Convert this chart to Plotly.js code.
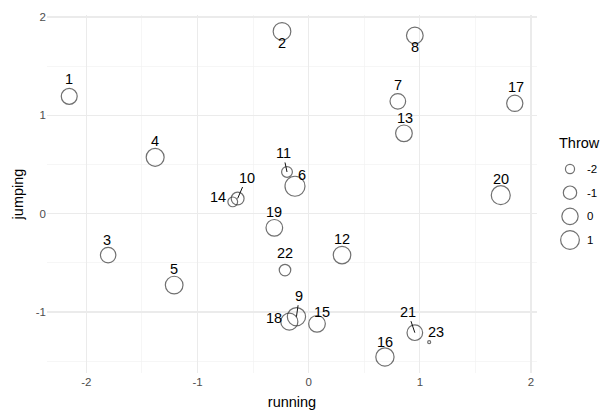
<!DOCTYPE html>
<html>
<head>
<meta charset="utf-8">
<script src="https://cdn.plot.ly/plotly-3.0.1.min.js"></script>
<style>html,body{margin:0;padding:0;background:#fff;}#chart{width:605px;height:410px;}</style>
</head>
<body>
<div id="chart"></div>
<script>
// ---- data ----
const ids = ["1","2","3","4","5","6","7","8","9","10","11","12","13","14","15","16","17","18","19","20","21","22","23"];
const running = [-2.154, -0.240, -1.804, -1.381, -1.210, -0.123, 0.802, 0.955, -0.110, -0.639, -0.195, 0.300, 0.857, -0.683, 0.075, 0.686, 1.854, -0.174, -0.309, 1.728, 0.955, -0.213, 1.084];
const jumping = [1.193, 1.853, -0.421, 0.573, -0.726, 0.279, 1.142, 1.812, -1.048, 0.154, 0.424, -0.421, 0.817, 0.120, -1.120, -1.457, 1.122, -1.098, -0.144, 0.188, -1.210, -0.574, -1.307];
const throwVals = [-0.14, 0.54, -0.30, 0.67, 0.54, 1.60, -0.26, 0.13, 0.80, -1.15, -1.67, 0.50, 0.13, -1.89, 0.13, 0.80, -0.03, 0.30, 0.13, 1.12, -0.26, -1.50, -2.54];
const legendBreaks = [-2, -1, 0, 1];

// ---- label placement (pixel offsets of label from point; seg = leader line) ----
const labelOffsets = [
  [0,-17,0],[0,12,0],[-1,-15,0],[0,-16,0],[0,-16,0],[7,-11,0],[0,-16,0],[0,12,0],
  [3,-21,1],[9,-21,1],[-4,-19,1],[0,-16,0],[1,-15,0],[-15,-5,0],[5,-12,0],[0,-15,0],
  [1,-16,0],[-15,-4,0],[0,-16,0],[0,-16,0],[-7,-21,1],[0,-17,0],[7,-10,0]
];

const tMin = Math.min(...throwVals), tMax = Math.max(...throwVals);
function sizeOf(v){ const f = Math.max(0,(v - tMin)/(tMax - tMin)); return 3 + 17*Math.sqrt(f); }

const FONT = "Liberation Sans, Arial, Helvetica, sans-serif";
const ptColor = "#333333";

const main = {
  type: "scatter", mode: "markers",
  x: running, y: jumping, xaxis: "x", yaxis: "y",
  marker: { symbol: "circle-open", size: throwVals.map(sizeOf), color: ptColor, line: {width: 1.2, color: ptColor} },
  hoverinfo: "skip", showlegend: false, cliponaxis: false
};
const leg = {
  type: "scatter", mode: "markers",
  x: legendBreaks.map(() => 0.5), y: legendBreaks, xaxis: "x2", yaxis: "y2",
  marker: { symbol: "circle-open", size: legendBreaks.map(sizeOf), color: ptColor, line: {width: 1.2, color: ptColor} },
  hoverinfo: "skip", showlegend: false, cliponaxis: false
};

const annotations = [];
ids.forEach((id, i) => {
  const o = labelOffsets[i];
  if (o[2]) {
    annotations.push({ x: running[i], y: jumping[i], xref: "x", yref: "y", text: id,
      showarrow: true, arrowhead: 0, arrowwidth: 1, arrowcolor: "#111", ax: o[0], ay: o[1], standoff: 0,
      font: {family: FONT, size: 14.5, color: "#000"} });
  } else {
    annotations.push({ x: running[i], y: jumping[i], xref: "x", yref: "y", text: id,
      showarrow: false, xshift: o[0], yshift: -o[1],
      font: {family: FONT, size: 14.5, color: "#000"} });
  }
});
legendBreaks.forEach(b => {
  annotations.push({ x: 1.25, y: b, xref: "x2", yref: "y2", text: String(b), showarrow: false,
    xanchor: "left", font: {family: FONT, size: 11.5, color: "#000"} });
});
annotations.push({ x: (557-47)/558, y: (373-143)/358, xref: "paper", yref: "paper", text: "Throw",
  showarrow: false, xanchor: "left", yanchor: "middle", font: {family: FONT, size: 14.5, color: "#000"} });

const layout = {
  width: 605, height: 410,
  margin: {l: 47, r: 0, t: 15, b: 37, pad: 0},
  paper_bgcolor: "#fff", plot_bgcolor: "#fff",
  showlegend: false,
  font: {family: FONT},
  xaxis: {
    domain: [0, 490/558], range: [-2.354, 2.054],
    tickvals: [-2,-1,0,1,2], ticktext: ["-2","-1","0","1","2"],
    showgrid: true, gridcolor: "#EBEBEB", gridwidth: 1.3,
    minor: {tickvals: [-1.5,-0.5,0.5,1.5], showgrid: true, gridcolor: "#F2F2F2", gridwidth: 0.7},
    zeroline: false, showline: false, ticks: "",
    tickfont: {family: FONT, size: 11.5, color: "#4D4D4D"},
    title: {text: "running", font: {family: FONT, size: 14.5, color: "#000"}, standoff: 10}
  },
  yaxis: {
    range: [-1.62, 2.02],
    tickvals: [-1,0,1,2], ticktext: ["-1","0","1","2"],
    showgrid: true, gridcolor: "#EBEBEB", gridwidth: 1.3,
    minor: {tickvals: [-1.5,-0.5,0.5,1.5], showgrid: true, gridcolor: "#F2F2F2", gridwidth: 0.7},
    zeroline: false, showline: false, ticks: "",
    tickfont: {family: FONT, size: 11.5, color: "#4D4D4D"},
    title: {text: "jumping", font: {family: FONT, size: 14.5, color: "#000"}, standoff: 8}
  },
  xaxis2: { domain: [(560-47)/558, 1], range: [0, 2.25], visible: false, anchor: "y2", fixedrange: true },
  yaxis2: { domain: [(373-250)/358, (373-160)/358], range: [1.42, -2.38], visible: false, anchor: "x2", fixedrange: true },
  annotations: annotations
};

Plotly.newPlot("chart", [main, leg], layout, {displayModeBar: false, staticPlot: true});
</script>
</body>
</html>
